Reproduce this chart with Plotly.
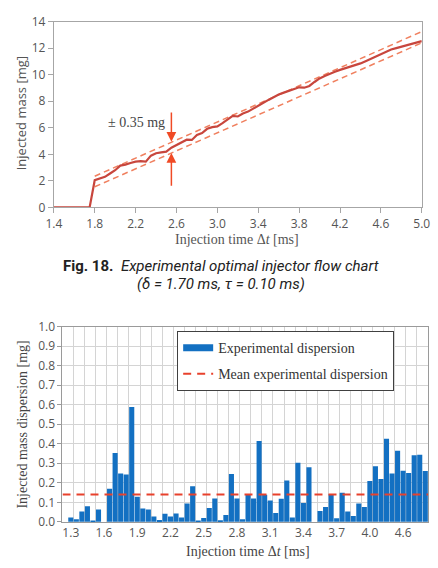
import plotly.graph_objects as go

# ---------------- Data: top chart (injector flow) ----------------
flow_t = [1.40, 1.45, 1.50, 1.55, 1.60, 1.65, 1.70, 1.75, 1.80, 1.85, 1.90, 1.95,
          2.00, 2.05, 2.10, 2.15, 2.20, 2.25, 2.30, 2.35, 2.40, 2.45, 2.50, 2.55,
          2.60, 2.65, 2.70, 2.75, 2.80, 2.85, 2.90, 2.95, 3.00, 3.05, 3.10, 3.15,
          3.20, 3.25, 3.30, 3.35, 3.40, 3.45, 3.50, 3.55, 3.60, 3.65, 3.70, 3.75,
          3.80, 3.85, 3.90, 3.95, 4.00, 4.05, 4.10, 4.15, 4.20, 4.25, 4.30, 4.35,
          4.40, 4.45, 4.50, 4.55, 4.60, 4.65, 4.70, 4.75, 4.80, 4.85, 4.90, 4.95, 5.00]
flow_mass = [0, 0, 0, 0, 0, 0, 0, 0, 2.05, 2.15, 2.30, 2.55,
             2.80, 3.15, 3.22, 3.35, 3.45, 3.48, 3.45, 3.90, 4.08, 4.15, 4.20, 4.50,
             4.70, 4.95, 5.10, 5.08, 5.45, 5.60, 5.92, 6.05, 6.10, 6.35, 6.60, 6.90,
             6.85, 7.08, 7.22, 7.42, 7.65, 7.88, 8.10, 8.32, 8.50, 8.65, 8.78, 8.95,
             9.05, 9.02, 9.15, 9.45, 9.72, 9.90, 10.08, 10.22, 10.36, 10.48, 10.60, 10.70,
             10.85, 11.02, 11.20, 11.38, 11.57, 11.75, 11.90, 12.00, 12.10, 12.20, 12.30, 12.42, 12.53]
band_t = [1.80, 5.00]
band_upper = [2.35, 13.25]
band_lower = [1.55, 12.40]
arrow_t = 2.55
arrow_down = [7.27, 4.94]   # tail, tip
arrow_up = [1.52, 4.09]     # tail, tip
band_label = "± 0.35 mg"
top_xticks = [1.4, 1.8, 2.2, 2.6, 3.0, 3.4, 3.8, 4.2, 4.6, 5.0]
top_yticks = [0, 2, 4, 6, 8, 10, 12, 14]

# ---------------- Data: bottom chart (dispersion) ----------------
disp_t = [1.25, 1.30, 1.35, 1.40, 1.45, 1.50, 1.55, 1.60, 1.65, 1.70, 1.75, 1.80,
          1.85, 1.90, 1.95, 2.00, 2.05, 2.10, 2.15, 2.20, 2.25, 2.30, 2.35, 2.40,
          2.45, 2.50, 2.55, 2.60, 2.65, 2.70, 2.75, 2.80, 2.85, 2.90, 2.95, 3.00,
          3.05, 3.10, 3.15, 3.20, 3.25, 3.30, 3.35, 3.40, 3.45, 3.50, 3.55, 3.60,
          3.65, 3.70, 3.75, 3.80, 3.85, 3.90, 3.95, 4.00, 4.05, 4.10, 4.15, 4.20,
          4.25, 4.30, 4.35, 4.40, 4.45, 4.50]
disp_val = [0.0, 0.022, 0.013, 0.053, 0.080, 0.007, 0.063, 0.0, 0.170, 0.353, 0.247, 0.242,
            0.588, 0.128, 0.068, 0.063, 0.028, 0.010, 0.041, 0.028, 0.043, 0.022, 0.094, 0.182,
            0.004, 0.020, 0.071, 0.120, 0.008, 0.035, 0.245, 0.120, 0.013, 0.141, 0.120, 0.414,
            0.139, 0.109, 0.045, 0.118, 0.212, 0.023, 0.303, 0.096, 0.280, 0.0, 0.056, 0.076,
            0.141, 0.018, 0.149, 0.053, 0.030, 0.094, 0.076, 0.209, 0.285, 0.220, 0.425, 0.248,
            0.364, 0.262, 0.250, 0.341, 0.344, 0.260]
mean_disp = 0.14
bot_tickvals = [1.3, 1.6, 1.9, 2.2, 2.5, 2.8, 3.1, 3.4, 3.7, 4.0, 4.3]
bot_ticktext = ["1.3", "1.6", "1.9", "2.2", "2.5", "2.8", "3.1", "3.4", "3.7", "4.0", "4.6"]
bot_yticks = [0.0, 0.1, 0.2, 0.3, 0.4, 0.5, 0.6, 0.7, 0.8, 0.9, 1.0]

W, H = 438, 568
half = 0.025
grid_x = [t - half for t in disp_t[::2]]

SERIF = "Liberation Serif"
SANS = "Open Sans"
TICKC = "#555555"

fig = go.Figure()

# top chart traces
fig.add_trace(go.Scatter(x=band_t, y=band_upper, mode="lines", xaxis="x", yaxis="y",
                         line=dict(color="#f0805f", width=1.5, dash="6px,4px"), showlegend=False))
fig.add_trace(go.Scatter(x=band_t, y=band_lower, mode="lines", xaxis="x", yaxis="y",
                         line=dict(color="#f0805f", width=1.5, dash="6px,4px"), showlegend=False))
fig.add_trace(go.Scatter(x=flow_t, y=flow_mass, mode="lines", xaxis="x", yaxis="y",
                         line=dict(color="#c8463d", width=2.2), showlegend=False))

# bottom chart traces
fig.add_trace(go.Bar(x=disp_t, y=disp_val, xaxis="x2", yaxis="y2", width=0.05 * 0.92,
                     marker=dict(color="#1370c2", line=dict(width=0)), showlegend=False))
fig.add_trace(go.Scatter(x=[None], y=[None], mode="lines", xaxis="x2", yaxis="y2",
                         name="Experimental dispersion", legendgroup="a",
                         line=dict(color="#1370c2", width=7)))
fig.add_trace(go.Scatter(x=[disp_t[0] - half, disp_t[-1] + half], y=[mean_disp, mean_disp],
                         mode="lines", xaxis="x2", yaxis="y2", legendgroup="b",
                         name="Mean experimental dispersion",
                         line=dict(color="#e8412c", width=2, dash="8px,6px")))

annotations = []
# arrows
annotations.append(dict(x=arrow_t, y=arrow_down[1], ax=arrow_t, ay=arrow_down[0], xref="x", yref="y",
                        axref="x", ayref="y", text="", showarrow=True, arrowhead=2, arrowsize=1.3,
                        arrowwidth=1.5, arrowcolor="#f04a25"))
annotations.append(dict(x=arrow_t, y=arrow_up[1], ax=arrow_t, ay=arrow_up[0], xref="x", yref="y",
                        axref="x", ayref="y", text="", showarrow=True, arrowhead=2, arrowsize=1.3,
                        arrowwidth=1.5, arrowcolor="#f04a25"))
annotations.append(dict(x=2.51, y=6.41, xref="x", yref="y", text=band_label, showarrow=False,
                        xanchor="right", yanchor="middle", font=dict(family=SERIF, size=14, color="#444444")))

def pa(text, x, y, font, angle=0, xanchor="center"):
    annotations.append(dict(text=text, x=x / W, y=1 - y / H, xref="paper", yref="paper",
                            showarrow=False, xanchor=xanchor, yanchor="middle", textangle=angle, font=font))

pa("Injection time Δ<i>t</i> [ms]", 238, 238, dict(family=SERIF, size=14, color="#555555"))
pa("Injected mass [mg]", 13, 107, dict(family=SANS, size=13, color="#555555"), angle=-90)
pa("<b>Fig. 18.</b>  <i>Experimental optimal injector flow chart</i>", 222, 265,
   dict(family="Roboto", size=15, color="#222222"))
pa("<i>(δ = 1.70 ms, τ = 0.10 ms)</i>", 222, 283, dict(family="Roboto", size=15, color="#222222"))
pa("Injection time Δ<i>t</i> [ms]", 250, 559, dict(family=SERIF, size=14, color="#444444"))
pa("Injected mass dispersion [mg]", 15, 428, dict(family=SERIF, size=14, color="#444444"), angle=-90)

fig.update_layout(
    width=W, height=H, margin=dict(l=0, r=0, t=0, b=0),
    paper_bgcolor="white", plot_bgcolor="white",
    xaxis=dict(domain=[47.7 / W, 430.5 / W], anchor="y", range=[1.4, 5.0],
               tickvals=top_xticks, tickformat=".1f", showgrid=False, zeroline=False,
               showline=True, mirror=True, linecolor="#a6a6a6", linewidth=1,
               ticks="outside", ticklen=5, tickcolor="#a6a6a6", ticklabeloverflow="allow",
               tickfont=dict(family=SANS, size=12, color=TICKC)),
    yaxis=dict(domain=[1 - 204.5 / H, 1 - 13 / H], anchor="x", range=[0, 14],
               tickvals=top_yticks, showgrid=False, zeroline=False,
               showline=True, mirror=True, linecolor="#a6a6a6", linewidth=1,
               ticks="outside", ticklen=5, tickcolor="#a6a6a6", ticklabeloverflow="allow",
               tickfont=dict(family=SANS, size=12, color=TICKC)),
    xaxis2=dict(domain=[56.7 / W, 437 / W], anchor="y2", range=[disp_t[0] - half, disp_t[-1] + half],
                tickmode="array", tickvals=bot_tickvals, ticktext=bot_ticktext,
                showgrid=False, zeroline=False, showline=True, mirror=True,
                linecolor="#9a9a9a", linewidth=1, ticks="", ticklabeloverflow="allow",
                minor=dict(tickmode="array", tickvals=grid_x, showgrid=True,
                           gridcolor="#d4d4d4", gridwidth=1, ticks=""),
                tickfont=dict(family=SANS, size=12, color=TICKC)),
    yaxis2=dict(domain=[1 - 528.7 / H, 1 - 327.3 / H], anchor="x2", range=[0, 1.0],
                tickvals=bot_yticks, tickformat=".1f", showgrid=True, gridcolor="#d4d4d4",
                zeroline=False, showline=True, mirror=True, linecolor="#9a9a9a", linewidth=1,
                ticks="outside", ticklen=4, tickcolor="#9a9a9a", ticklabeloverflow="allow",
                tickfont=dict(family=SANS, size=12, color=TICKC)),
    legend=dict(x=176 / W, y=1 - 332 / H, xanchor="left", yanchor="top",
                bgcolor="white", bordercolor="#404040", borderwidth=1,
                font=dict(family=SERIF, size=14, color="#333333"),
                traceorder="grouped", tracegroupgap=5, itemwidth=30),
    bargap=0.08,
    annotations=annotations,
)

fig.write_html("out.html")
